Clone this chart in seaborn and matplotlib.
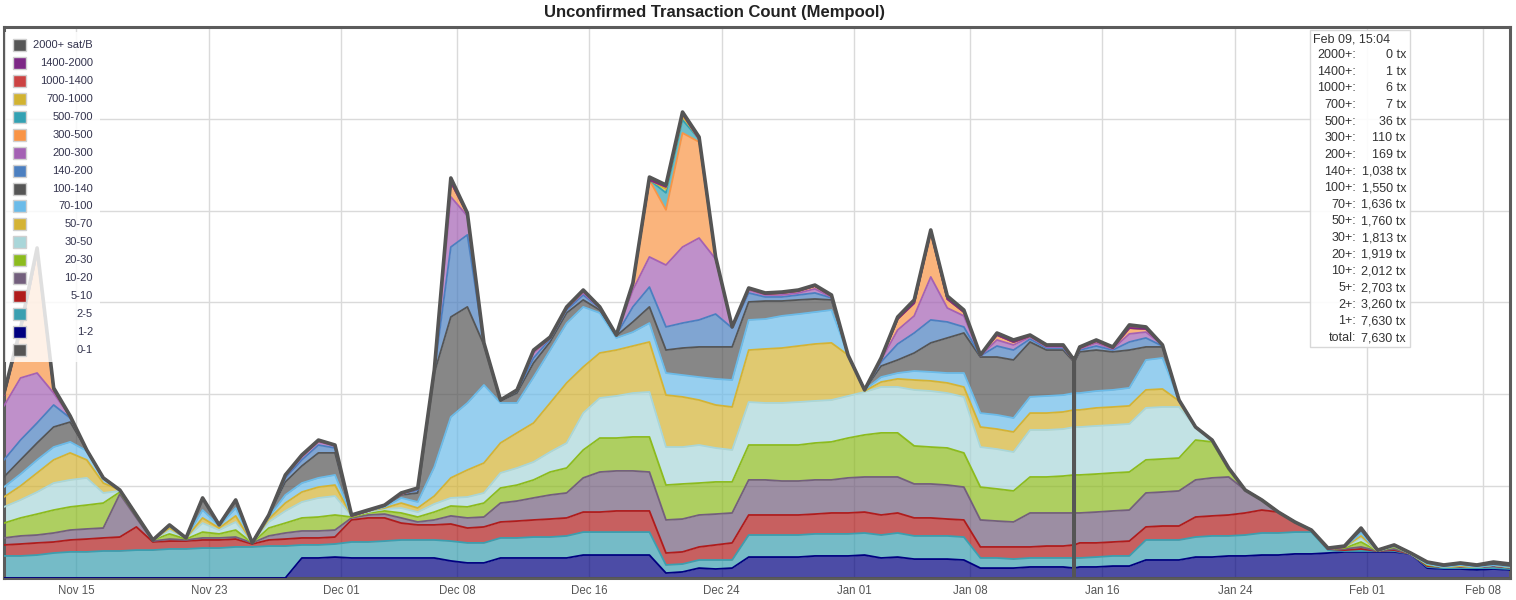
import numpy as np
import pandas as pd
import matplotlib
matplotlib.use("Agg")
import matplotlib.pyplot as plt
import matplotlib.dates as mdates
from matplotlib.patches import Rectangle
import seaborn as sns

sns.set_theme(style="white")
plt.rcParams["font.family"] = ["Liberation Sans", "DejaVu Sans"]

# one reading per day, in thousands of unconfirmed transactions
times = pd.date_range("2017-11-10 15:04", periods=92, freq="D")

# cumulative counts: transactions paying less than X sat/B
below_1 = [0.0] * 92
below_2 = [
    0, 0, 0, 0, 0, 0, 0, 0, 0, 0,
    0, 0, 0, 0, 0, 0, 0, 0, 10.9, 10.9,
    11.4, 10.9, 10.9, 10.9, 10.9, 10.9, 10.9, 9.3, 8.2, 8.2,
    10.9, 10.9, 10.9, 10.9, 10.9, 12.5, 12.5, 12.5, 12.5, 12.5,
    2.7, 3.3, 5.4, 4.9, 5.4, 11.4, 11.4, 11.4, 11.4, 12.0,
    12.0, 12.0, 12.5, 10.9, 11.4, 10.3, 10.3, 10.3, 9.8, 5.4,
    5.4, 5.4, 6.0, 6.0, 6.0, 6.0, 6.0, 6.5, 6.5, 9.8,
    9.8, 9.8, 11.4, 11.4, 12.0, 12.0, 12.5, 12.5, 13.1, 13.1,
    13.6, 14.2, 14.2, 14.2, 14.2, 13.1, 5.4, 4.9, 4.9, 4.4,
    4.9, 4.370]
below_5 = [
    12.0, 12.0, 12.5, 13.6, 14.2, 14.2, 14.7, 14.7, 15.2, 15.2,
    15.8, 15.8, 16.3, 16.3, 16.9, 16.9, 17.4, 17.4, 18.0, 18.0,
    18.5, 19.6, 19.6, 20.1, 20.7, 20.7, 20.7, 20.1, 19.1, 19.1,
    21.8, 21.8, 22.3, 22.3, 22.9, 25.0, 25.0, 25.0, 25.0, 25.0,
    7.1, 7.6, 9.8, 9.8, 9.8, 23.4, 23.4, 23.4, 23.4, 24.0,
    24.0, 24.0, 24.5, 23.4, 24.5, 22.9, 22.9, 22.9, 22.3, 10.9,
    10.9, 10.3, 10.9, 10.9, 10.9, 10.9, 11.4, 12.0, 12.0, 20.7,
    20.7, 20.7, 22.3, 22.9, 22.9, 23.4, 24.5, 24.5, 25.0, 25.0,
    15.2, 14.7, 14.7, 14.7, 14.7, 13.1, 6.0, 5.4, 5.4, 5.4,
    5.4, 4.927]
below_10 = [
    18.0, 18.5, 19.1, 19.6, 20.7, 21.2, 21.8, 22.3, 27.8, 19.6,
    20.1, 20.1, 20.7, 20.7, 21.2, 18.5, 20.7, 21.2, 21.8, 21.8,
    22.3, 31.6, 32.7, 32.7, 29.9, 28.9, 28.9, 29.4, 27.2, 27.8,
    30.5, 31.0, 31.6, 32.1, 32.7, 35.9, 35.9, 36.5, 36.5, 36.5,
    13.6, 14.2, 16.9, 18.0, 19.1, 34.3, 34.3, 34.3, 34.3, 34.8,
    35.4, 35.4, 35.9, 34.3, 35.4, 32.7, 32.7, 32.1, 31.6, 16.9,
    16.9, 16.9, 16.9, 17.4, 17.4, 19.1, 19.1, 19.6, 20.1, 27.8,
    28.3, 28.3, 33.2, 33.8, 34.3, 35.4, 37.0, 35.9, 30.5, 26.1,
    15.8, 15.2, 15.8, 14.7, 15.2, 13.1, 6.5, 6.0, 6.0, 6.0,
    6.5, 5.618]
below_20 = [
    21.8, 22.9, 23.4, 24.5, 26.1, 26.7, 27.2, 45.7, 32.7, 20.1,
    21.2, 20.7, 21.8, 21.8, 22.3, 19.1, 22.9, 24.5, 25.6, 25.6,
    26.1, 32.7, 34.3, 34.8, 32.7, 30.5, 31.6, 33.8, 32.7, 33.2,
    40.8, 41.9, 43.6, 45.2, 46.3, 54.5, 57.7, 58.3, 58.3, 57.7,
    31.6, 32.1, 34.3, 34.8, 35.4, 53.4, 53.4, 52.8, 52.8, 53.4,
    53.4, 54.5, 55.0, 55.0, 55.0, 51.2, 51.2, 50.6, 49.5, 31.6,
    31.0, 30.5, 35.4, 35.4, 35.4, 35.4, 35.9, 36.5, 37.0, 46.3,
    46.8, 47.4, 53.4, 54.5, 55.0, 47.9, 42.5, 35.9, 30.5, 26.1,
    15.8, 15.8, 16.9, 14.7, 15.8, 13.1, 7.1, 6.0, 6.0, 6.0,
    6.5, 5.711]
below_30 = [
    29.9, 32.7, 34.8, 37.0, 38.7, 39.7, 40.8, 46.8, 33.8, 20.7,
    24.0, 21.2, 25.0, 24.0, 26.1, 19.1, 27.2, 29.9, 32.7, 33.2,
    34.3, 33.2, 35.4, 36.5, 35.4, 33.2, 35.9, 39.2, 38.7, 40.8,
    49.0, 50.6, 53.4, 57.7, 59.9, 69.7, 76.2, 76.2, 76.8, 76.8,
    50.6, 51.2, 51.7, 52.3, 52.3, 72.4, 72.4, 72.4, 72.4, 73.5,
    74.1, 76.2, 77.9, 79.0, 79.0, 71.9, 71.3, 70.8, 68.1, 49.5,
    48.5, 47.4, 55.0, 55.0, 55.5, 56.1, 56.6, 57.2, 57.7, 64.3,
    64.8, 65.3, 75.1, 74.1, 58.8, 47.9, 42.5, 35.9, 30.5, 26.1,
    15.8, 16.3, 19.6, 14.7, 16.9, 13.1, 7.1, 6.0, 6.5, 6.0,
    7.1, 5.817]
below_50 = [
    38.7, 42.5, 46.8, 51.7, 53.4, 54.5, 46.3, 47.4, 34.3, 20.7,
    26.1, 21.8, 29.9, 26.1, 30.5, 19.1, 30.5, 36.5, 41.4, 43.6,
    44.6, 33.8, 35.9, 37.6, 38.1, 35.9, 40.3, 43.6, 44.1, 46.3,
    57.2, 59.9, 63.2, 68.6, 73.5, 89.8, 98.0, 99.1, 100.7, 101.3,
    71.3, 71.3, 72.4, 70.8, 69.7, 95.8, 95.3, 95.3, 95.8, 96.4,
    96.9, 99.1, 101.3, 104.0, 104.0, 102.4, 101.8, 100.7, 98.6, 71.3,
    70.2, 68.6, 80.6, 80.6, 81.1, 82.2, 82.8, 83.3, 83.9, 92.6,
    93.1, 93.1, 82.2, 74.6, 59.4, 47.9, 42.5, 35.9, 30.5, 26.1,
    15.8, 16.9, 21.8, 14.7, 17.4, 13.1, 7.6, 6.0, 6.5, 6.0,
    7.1, 5.870]
below_70 = [
    44.1, 50.1, 57.2, 64.3, 68.1, 64.3, 51.7, 47.9, 34.3, 20.7,
    27.2, 21.8, 32.7, 27.2, 33.8, 19.1, 32.1, 40.8, 46.8, 49.5,
    50.6, 33.8, 36.5, 38.1, 40.8, 38.1, 44.6, 54.5, 58.8, 62.6,
    73.5, 79.0, 84.4, 95.3, 106.2, 114.9, 122.5, 124.1, 126.3, 128.5,
    99.6, 98.6, 96.9, 94.2, 93.1, 124.1, 124.7, 125.2, 126.3, 127.4,
    128.0, 121.4, 101.8, 106.7, 108.4, 107.8, 107.3, 106.2, 104.0, 82.2,
    81.1, 79.5, 89.8, 89.8, 90.4, 91.5, 92.6, 93.1, 93.7, 102.4,
    102.9, 96.4, 82.2, 75.1, 59.9, 47.9, 42.5, 35.9, 30.5, 26.1,
    15.8, 16.9, 22.9, 14.7, 17.4, 13.1, 7.6, 6.0, 6.5, 6.0,
    7.1, 5.994]
below_100 = [
    49.5, 56.6, 64.3, 71.3, 74.1, 69.2, 54.5, 47.9, 34.3, 20.7,
    28.3, 21.8, 37.0, 28.3, 38.1, 19.1, 33.2, 45.2, 51.7, 54.5,
    56.1, 33.8, 36.5, 38.7, 43.6, 41.4, 60.4, 87.7, 95.3, 105.1,
    95.3, 95.3, 109.4, 124.1, 138.8, 147.6, 144.3, 130.7, 133.9, 138.8,
    111.6, 110.5, 109.4, 108.4, 107.8, 140.5, 141.0, 142.7, 143.7, 144.8,
    145.9, 121.4, 102.4, 109.4, 111.6, 112.7, 112.2, 111.6, 111.6, 89.8,
    88.8, 87.1, 98.6, 99.1, 99.6, 100.7, 101.8, 102.4, 103.5, 118.7,
    119.8, 96.9, 82.2, 75.1, 59.9, 47.9, 42.5, 35.9, 30.5, 26.1,
    15.8, 16.9, 24.5, 14.7, 17.4, 13.1, 7.6, 6.0, 7.1, 6.0,
    7.1, 6.080]
below_140 = [
    55.0, 64.3, 73.5, 82.2, 84.9, 69.7, 54.5, 47.9, 34.3, 20.7,
    28.9, 21.8, 43.6, 28.9, 42.5, 19.1, 34.3, 52.3, 61.0, 68.1,
    68.1, 33.8, 36.5, 39.2, 45.2, 46.3, 111.6, 142.1, 147.6, 126.9,
    96.4, 100.7, 117.1, 128.5, 144.3, 151.4, 145.9, 131.8, 139.4, 147.6,
    124.1, 125.2, 125.8, 125.8, 125.8, 150.3, 150.8, 150.8, 151.4, 151.9,
    151.4, 121.4, 102.4, 115.4, 118.7, 122.5, 128.0, 130.7, 133.4, 120.3,
    120.3, 118.7, 128.5, 124.1, 124.1, 123.1, 124.1, 123.1, 124.1, 125.8,
    125.8, 96.9, 82.2, 75.1, 59.9, 47.9, 42.5, 35.9, 30.5, 26.1,
    15.8, 16.9, 26.1, 14.7, 18.0, 13.6, 8.2, 6.5, 7.6, 6.5,
    7.6, 6.592]
below_200 = [
    64.3, 75.1, 84.4, 94.2, 87.1, 69.7, 54.5, 47.9, 34.3, 20.7,
    28.9, 21.8, 43.6, 28.9, 42.5, 19.1, 34.3, 54.5, 64.3, 72.4,
    70.8, 33.8, 36.5, 39.7, 45.7, 47.9, 112.7, 180.2, 186.8, 127.4,
    96.9, 101.8, 119.8, 130.1, 145.9, 154.1, 147.0, 132.3, 147.6, 158.4,
    136.7, 138.8, 140.5, 143.7, 136.1, 155.2, 153.0, 153.0, 154.1, 155.2,
    152.5, 121.4, 102.4, 117.6, 127.4, 133.4, 140.5, 139.4, 136.7, 120.9,
    126.3, 124.1, 130.1, 125.2, 125.2, 124.1, 126.3, 124.1, 128.5, 130.7,
    126.3, 96.9, 82.2, 75.1, 59.9, 47.9, 42.5, 35.9, 30.5, 26.1,
    15.8, 16.9, 26.7, 15.2, 18.0, 13.6, 8.7, 7.1, 8.2, 7.1,
    8.2, 7.461]
below_300 = [
    93.7, 108.9, 111.6, 100.7, 87.7, 69.7, 54.5, 47.9, 34.3, 20.7,
    28.9, 21.8, 43.6, 28.9, 42.5, 19.1, 34.3, 55.5, 65.9, 74.1,
    71.9, 33.8, 36.5, 39.7, 45.7, 48.5, 113.3, 207.5, 197.1, 128.0,
    96.9, 102.4, 122.5, 130.7, 147.0, 155.2, 147.0, 132.3, 156.8, 174.8,
    170.4, 180.2, 185.1, 173.7, 136.7, 156.8, 154.1, 154.1, 155.2, 157.4,
    153.0, 121.4, 102.4, 118.7, 135.0, 142.7, 163.9, 147.0, 142.7, 120.9,
    129.6, 126.9, 131.2, 125.8, 125.8, 124.7, 128.0, 124.7, 132.9, 133.9,
    126.9, 96.9, 82.2, 75.1, 59.9, 47.9, 42.5, 35.9, 30.5, 26.1,
    15.8, 16.9, 27.2, 15.2, 18.0, 13.6, 8.7, 7.1, 8.2, 7.1,
    8.7, 7.520]
below_500 = [
    99.6, 134.5, 177.5, 102.4, 87.7, 69.7, 54.5, 47.9, 34.3, 20.7,
    28.9, 21.8, 43.6, 28.9, 42.5, 19.1, 34.3, 56.1, 66.4, 74.6,
    72.4, 33.8, 36.5, 39.7, 45.7, 49.0, 113.3, 215.6, 198.2, 128.0,
    96.9, 102.4, 123.6, 130.7, 147.0, 156.3, 147.6, 132.3, 160.1, 216.7,
    200.4, 242.3, 237.4, 174.2, 136.7, 157.4, 154.6, 155.2, 156.3, 159.0,
    153.5, 121.4, 102.4, 119.2, 141.0, 149.7, 188.4, 151.9, 144.8, 121.4,
    132.3, 128.5, 131.8, 126.3, 126.3, 125.2, 129.0, 125.2, 136.1, 135.6,
    126.9, 96.9, 82.2, 75.1, 59.9, 47.9, 42.5, 35.9, 30.5, 26.1,
    15.8, 16.9, 27.2, 15.2, 18.0, 13.6, 8.7, 7.1, 8.2, 7.1,
    8.7, 7.594]
total = [
    100.7, 136.1, 179.7, 103.5, 88.2, 69.7, 54.5, 47.9, 34.3, 20.7,
    28.9, 21.8, 43.6, 28.9, 42.5, 19.1, 34.3, 56.1, 67.0, 75.1,
    72.4, 34.3, 37.0, 39.7, 46.3, 49.0, 113.3, 217.8, 198.7, 128.0,
    96.9, 102.4, 124.1, 131.2, 147.6, 156.8, 147.6, 132.3, 160.6, 218.3,
    214.0, 253.7, 240.1, 174.8, 136.7, 157.9, 155.2, 155.7, 156.8, 159.5,
    154.1, 121.4, 102.4, 119.8, 142.1, 151.4, 189.5, 153.5, 145.9, 121.4,
    133.4, 129.6, 132.3, 126.9, 126.9, 125.8, 129.6, 125.8, 137.8, 136.7,
    126.9, 96.9, 82.2, 75.1, 59.9, 47.9, 42.5, 35.9, 30.5, 26.1,
    16.3, 17.4, 27.2, 15.2, 18.0, 13.6, 8.7, 7.1, 8.2, 7.1,
    8.7, 7.630]

# thin high-fee bands (thousands of tx)
fee_500_700 = [0.0] * 40 + [9.3, 7.1, 1.6] + [0.0] * 48 + [0.029]
fee_700_1000 = [0.0] * 40 + [2.2, 2.2] + [0.0] * 49 + [0.001]
fee_1000_1400 = [0.0] * 40 + [1.1, 1.1] + [0.0] * 49 + [0.005]
fee_1400_2000 = [0.0] * 91 + [0.001]

# feed dropout on Jan 14: readings just before/after, and the empty reading
dropout_times = ["2018-01-14 06:54", "2018-01-14 07:04", "2018-01-14 07:14"]
dropout_edge = [0.0, 5.4, 10.9, 18.0, 35.4, 56.1, 82.2, 91.5, 100.7, 117.6,
                118.2, 118.2, 118.2, 118.7]

band_labels = ["0-1", "1-2", "2-5", "5-10", "10-20", "20-30", "30-50", "50-70",
               "70-100", "100-140", "140-200", "200-300", "300-500", "500-700",
               "700-1000", "1000-1400", "1400-2000", "2000+ sat/B"]
band_colors = ["#555555", "#000080", "#3a9fb0", "#b01c1c", "#735f7d", "#8cbb1e",
               "#a9d6d9", "#d4b334", "#6bbbe9", "#555555", "#4b7fc0", "#a461b4",
               "#f99445", "#33a1b3", "#d2b331", "#cc4343", "#7d2886", "#555555"]
tooltip_labels = ["1+", "2+", "5+", "10+", "20+", "30+", "50+", "70+", "100+",
                  "140+", "200+", "300+", "500+", "700+", "1000+", "1400+", "2000+"]
tick_dates = ["2017-11-15", "2017-11-23", "2017-12-01", "2017-12-08", "2017-12-16",
              "2017-12-24", "2018-01-01", "2018-01-08", "2018-01-16", "2018-01-24",
              "2018-02-01", "2018-02-08"]

# stack boundaries
below_700 = np.array(below_500) + np.array(fee_500_700)
below_1000 = below_700 + np.array(fee_700_1000)
below_1400 = below_1000 + np.array(fee_1000_1400)
below_2000 = below_1400 + np.array(fee_1400_2000)
tot = np.maximum(np.array(total), below_2000)
levels = [np.zeros(len(times))] + [np.array(a, dtype=float) for a in [
    below_1, below_2, below_5, below_10, below_20, below_30, below_50, below_70,
    below_100, below_140, below_200, below_300, below_500]] + [
    below_700, below_1000, below_1400, below_2000, tot]

# splice the dropout readings in (after Jan 13)
cut = int(np.searchsorted(times, pd.Timestamp(dropout_times[0])))
t_all = times[:cut].append(pd.DatetimeIndex(dropout_times)).append(times[cut:])
edge = dropout_edge[:13] + [dropout_edge[12]] * 4 + [dropout_edge[13]]
edge = [0.0] + edge
lv_all = [np.concatenate([lv[:cut], [e, 0.0, e], lv[cut:]]) for lv, e in zip(levels, edge)]

W, H = 1516, 600


def px(x, y):
    return x / W, 1 - y / H


fig = plt.figure(figsize=(W / 100, H / 100), dpi=100)
ax = fig.add_axes([4 / W, 22 / H, 1506 / W, 551 / H])

for k in range(len(band_labels)):
    ax.fill_between(t_all, lv_all[k], lv_all[k + 1], color=band_colors[k],
                    alpha=0.7, lw=0, zorder=2)
for k in range(len(band_labels) - 1):
    sns.lineplot(x=t_all, y=lv_all[k + 1], color=band_colors[k], lw=1.3,
                 ax=ax, zorder=3)
sns.lineplot(x=t_all, y=lv_all[-1], color="#555555", lw=2.6, ax=ax, zorder=4)

ax.set_xlim(times[0], times[-1])
ax.set_ylim(0, 300)
ax.set_yticks(np.arange(0, 301, 50))
ax.yaxis.set_ticklabels([])
ax.set_xticks(pd.to_datetime(tick_dates))
ax.xaxis.set_major_formatter(mdates.DateFormatter("%b %d"))
ax.tick_params(length=0, labelsize=8.3, colors="#555555", pad=5)
ax.grid(True, color="#dadada", lw=1)
ax.set_axisbelow(True)
ax.set_xlabel("")
ax.set_ylabel("")
for s in ax.spines.values():
    s.set_color("#5c5c5c")
    s.set_linewidth(2.2)

fig.text(*px(715, 12), "Unconfirmed Transaction Count (Mempool)", ha="center",
         va="center", fontsize=12, fontweight="bold", color="#222222",
         family=["Liberation Sans Narrow", "Liberation Sans", "DejaVu Sans"])

# legend, top band first
fig.add_artist(Rectangle(px(5, 362), 95 / W, 330 / H, transform=fig.transFigure,
                         facecolor="white", alpha=0.82, edgecolor="none", zorder=5))
for r, (lab, col) in enumerate(zip(band_labels[::-1], band_colors[::-1])):
    yc = 45 + r * 17.94
    fig.add_artist(Rectangle(px(13, yc + 6), 13 / W, 12 / H, transform=fig.transFigure,
                             facecolor=col, edgecolor="#d0d0d0", lw=1, zorder=6))
    fig.text(*px(93, yc), lab, ha="right", va="center", fontsize=8,
             color="#33334d", zorder=6)

# hover box for the last reading
fig.add_artist(Rectangle(px(1310, 347), 100 / W, 317 / H, transform=fig.transFigure,
                         facecolor="white", alpha=0.92, edgecolor="#d5d5d5", lw=1,
                         zorder=5))
fig.text(*px(1313, 39), times[-1].strftime("%b %d, %H:%M"), ha="left", va="center",
         fontsize=9, color="#333333", zorder=6)
rows = []
for idx in range(len(tooltip_labels), 0, -1):
    rows.append((tooltip_labels[idx - 1] + ":", tot[-1] - levels[idx][-1]))
rows.append(("total:", tot[-1]))
for r, (lab, val) in enumerate(rows):
    yc = 55 + r * 16.65
    fig.text(*px(1356, yc), lab, ha="right", va="center", fontsize=9,
             color="#333333", zorder=6)
    fig.text(*px(1406, yc), f"{round(val * 1000):,} tx", ha="right", va="center",
             fontsize=9, color="#333333", zorder=6)

fig.savefig("out.png", dpi=100)
